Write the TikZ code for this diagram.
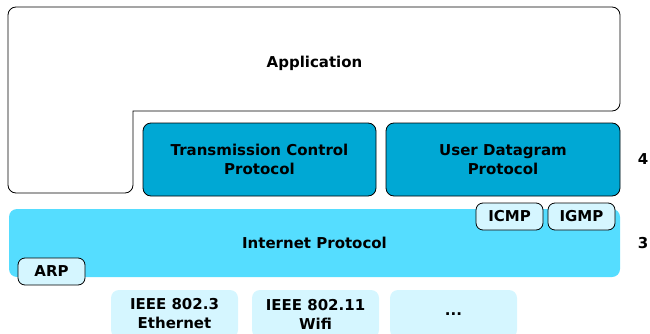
\documentclass[tikz,border=0pt]{standalone}
\usepackage{fontspec}
\setmainfont{DejaVu Sans}
\definecolor{tlayer}{HTML}{00A8D4}
\definecolor{ilayer}{HTML}{55DDFF}
\definecolor{pale}{HTML}{D5F6FF}
\begin{document}
\begin{tikzpicture}[x=1pt,y=1pt,
  every node/.style={font=\fontsize{15}{19}\selectfont\bfseries, align=center, inner sep=0pt},
  proto/.style={draw=black, line width=0.8pt, fill=tlayer, rounded corners=8pt},
  iplayer/.style={fill=ilayer, rounded corners=8pt},
  helper/.style={draw=black, line width=0.8pt, fill=pale, rounded corners=7pt},
  link/.style={fill=pale, rounded corners=8pt},
  layernum/.style={}]
\useasboundingbox (0,0) rectangle (650,333);
\begin{scope}
\clip (0,0) rectangle (650,333);
% application layer: L-shaped outline
\draw[line width=0.8pt, fill=white] (133,222) -- (612,222)
  arc[start angle=-90, end angle=0, radius=8] -- (620,318)
  arc[start angle=0, end angle=90, radius=8] -- (16,326)
  arc[start angle=90, end angle=180, radius=8] -- (8,148)
  arc[start angle=180, end angle=270, radius=8] -- (125,140)
  arc[start angle=270, end angle=360, radius=8] -- cycle;
\node (app) at (314.5,270) {Application};
% transport layer
\node[proto, minimum width=233pt, minimum height=73pt] (tcp) at (259.5,173.5) {Transmission Control\\Protocol};
\node[proto, minimum width=234pt, minimum height=73pt] (udp) at (503,173.5) {User Datagram\\Protocol};
\node (l4) at (643,174) {4};
% internet layer
\node[iplayer, minimum width=611pt, minimum height=68pt] (ip) at (314.5,90) {Internet Protocol};
\node[helper, minimum width=67pt, minimum height=27pt] (icmp) at (509.5,116.5) {ICMP};
\node[helper, minimum width=67pt, minimum height=27pt] (igmp) at (581.5,116.5) {IGMP};
\node[helper, minimum width=67pt, minimum height=27pt] (arp) at (51.5,61.5) {ARP};
\node (l3) at (643,90) {3};
% link layer
\node[link, minimum width=127pt, minimum height=48pt] (eth) at (174.5,19) {IEEE 802.3\\Ethernet};
\node[link, minimum width=127pt, minimum height=48pt] (wifi) at (315.5,19) {IEEE 802.11\\Wifi};
\node[link, minimum width=127pt, minimum height=48pt] (more) at (453.5,19) {...};
\end{scope}
\end{tikzpicture}
\end{document}
